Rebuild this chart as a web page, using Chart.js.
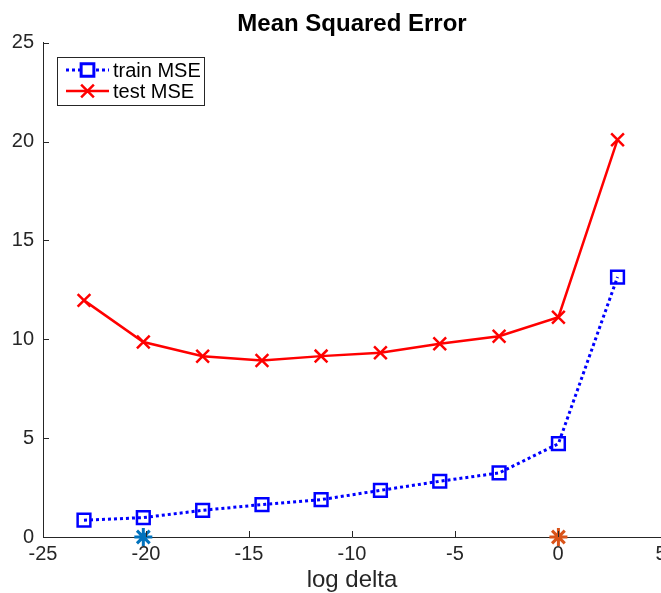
<!DOCTYPE html>
<html>
<head>
<meta charset="utf-8">
<script src="https://cdn.jsdelivr.net/npm/chart.js@4/dist/chart.umd.min.js"></script>
<style>
    html, body { margin: 0; padding: 0; background: #fff; }
    #wrap { width: 661px; height: 593px; }
</style>
</head>
<body>
<div id="wrap"><canvas id="mseChart" width="661" height="593"></canvas></div>
<script>
// x positions (log of delta) and the error curves
const logDelta = [-23.01, -20.13, -17.25, -14.37, -11.50, -8.62, -5.74, -2.86, 0.02, 2.89];
const trainMSE = [0.85, 0.98, 1.35, 1.64, 1.89, 2.36, 2.82, 3.24, 4.72, 13.15];
const testMSE = [11.97, 9.86, 9.14, 8.93, 9.15, 9.32, 9.78, 10.16, 11.12, 20.1];

// markers on the x axis at the two chosen deltas
const pickTrain = [logDelta[1]];
const pickTest = [logDelta[8]];

const xTicks = [-25, -20, -15, -10, -5, 0, 5];
const yTicks = [0, 5, 10, 15, 20, 25];

const axisColor = '#262626';
const fontFamily = '"Liberation Sans", Arial, Helvetica, sans-serif';

function toPoints(xs, ys) {
    return xs.map((x, i) => ({ x: x, y: ys[i] }));
}

// MATLAB-like inward tick marks
const inwardTicks = {
    id: 'inwardTicks',
    afterDatasetsDraw(chart) {
        const ctx = chart.ctx;
        const area = chart.chartArea;
        const xs = chart.scales.x;
        const ys = chart.scales.y;
        ctx.save();
        ctx.strokeStyle = axisColor;
        ctx.lineWidth = 1;
        ctx.beginPath();
        xTicks.forEach(v => {
            const px = Math.round(xs.getPixelForValue(v)) + 0.5;
            ctx.moveTo(px, area.bottom);
            ctx.lineTo(px, area.bottom - 6);
        });
        yTicks.forEach(v => {
            const py = Math.round(ys.getPixelForValue(v)) + 0.5;
            ctx.moveTo(area.left, py);
            ctx.lineTo(area.left + 6, py);
        });
        ctx.stroke();
        ctx.restore();
    }
};

// boxed legend with line + marker samples
const boxLegend = {
    id: 'boxLegend',
    afterDraw(chart) {
        const ctx = chart.ctx;
        const items = chart.data.datasets.filter(d => d.label);
        const bx = 57.5, by = 57.5, bw = 147, bh = 48;
        ctx.save();
        ctx.fillStyle = '#fff';
        ctx.fillRect(bx, by, bw, bh);
        ctx.strokeStyle = axisColor;
        ctx.lineWidth = 1;
        ctx.strokeRect(bx, by, bw, bh);

        items.forEach((d, i) => {
            const y = 70 + i * 21;
            ctx.save();
            ctx.strokeStyle = d.borderColor;
            ctx.lineWidth = d.borderWidth;
            ctx.setLineDash(d.borderDash || []);
            ctx.beginPath();
            ctx.moveTo(66, y);
            ctx.lineTo(109, y);
            ctx.stroke();
            ctx.setLineDash([]);
            Chart.helpers.drawPoint(ctx, {
                pointStyle: d.pointStyle,
                radius: d.pointRadius,
                borderWidth: d.pointBorderWidth,
                rotation: 0
            }, 87.5, y);
            ctx.restore();

            ctx.fillStyle = '#000';
            ctx.font = '20px ' + fontFamily;
            ctx.textBaseline = 'middle';
            ctx.textAlign = 'left';
            ctx.fillText(d.label, 113, y + 1);
        });
        ctx.restore();
    }
};

new Chart(document.getElementById('mseChart'), {
    type: 'line',
    data: {
        datasets: [
            {
                label: 'train MSE',
                data: toPoints(logDelta, trainMSE),
                borderColor: '#0000ff',
                borderWidth: 3,
                borderDash: [3, 3],
                pointStyle: 'rect',
                pointRadius: 9,
                pointBorderWidth: 2.5,
                pointBackgroundColor: 'rgba(0,0,0,0)',
                pointBorderColor: '#0000ff',
                clip: false
            },
            {
                label: 'test MSE',
                data: toPoints(logDelta, testMSE),
                borderColor: '#ff0000',
                borderWidth: 2.5,
                pointStyle: 'crossRot',
                pointRadius: 9,
                pointBorderWidth: 2.5,
                pointBorderColor: '#ff0000',
                clip: false
            },
            {
                data: pickTrain.map(x => ({ x: x, y: 0 })),
                showLine: false,
                pointStyle: 'star',
                pointRadius: 9,
                pointBorderWidth: 3,
                pointBorderColor: '#0072bd',
                clip: false
            },
            {
                data: pickTest.map(x => ({ x: x, y: 0 })),
                showLine: false,
                pointStyle: 'star',
                pointRadius: 9,
                pointBorderWidth: 3,
                pointBorderColor: '#d95319',
                clip: false
            }
        ]
    },
    options: {
        responsive: false,
        animation: false,
        layout: { padding: 0, autoPadding: false },
        plugins: {
            legend: { display: false },
            tooltip: { enabled: false },
            title: {
                display: true,
                text: 'Mean Squared Error',
                color: '#000',
                fullSize: false,
                font: { family: fontFamily, size: 24, weight: 'bold', lineHeight: 1.2 },
                padding: { top: 10, bottom: 4 }
            }
        },
        scales: {
            x: {
                type: 'linear',
                min: -25,
                max: 5,
                afterBuildTicks: s => { s.ticks = xTicks.map(v => ({ value: v })); },
                afterFit: s => { s.height = 56; s.paddingLeft = 0; s.paddingRight = 0; },
                grid: { display: false, drawTicks: false },
                border: { display: true, color: axisColor, width: 1 },
                ticks: {
                    color: axisColor,
                    padding: 5,
                    maxRotation: 0,
                    autoSkip: false,
                    font: { family: fontFamily, size: 20 },
                    callback: v => String(v)
                },
                title: {
                    display: true,
                    text: 'log delta',
                    color: axisColor,
                    font: { family: fontFamily, size: 24, lineHeight: 1 },
                    padding: { top: 0, bottom: 1 }
                }
            },
            y: {
                type: 'linear',
                min: 0,
                max: 25,
                afterBuildTicks: s => { s.ticks = yTicks.map(v => ({ value: v })); },
                afterFit: s => { s.width = 43; s.paddingTop = 0; s.paddingBottom = 0; },
                grid: { display: false, drawTicks: false },
                border: { display: true, color: axisColor, width: 1 },
                ticks: {
                    color: axisColor,
                    padding: 9,
                    font: { family: fontFamily, size: 20 }
                }
            }
        }
    },
    plugins: [inwardTicks, boxLegend]
});
</script>
</body>
</html>
